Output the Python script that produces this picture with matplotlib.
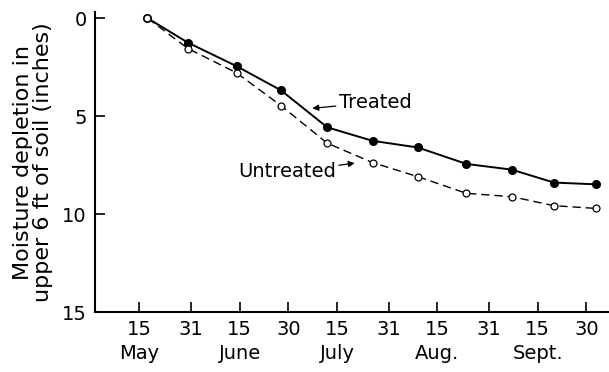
import matplotlib.pyplot as plt

# day of year for sampling dates (approx. every two weeks)
days = [137.5, 150, 165, 178.7, 193, 207, 221, 236, 250, 263, 276]
treated = [0.0, 1.25, 2.45, 3.68, 5.57, 6.26, 6.6, 7.44, 7.73, 8.39, 8.48]
untreated = [0.0, 1.55, 2.79, 4.46, 6.38, 7.37, 8.09, 8.94, 9.11, 9.57, 9.71]

tick_days = [135, 151, 166, 181, 196, 212, 227, 243, 258, 273]
tick_labels = ['15', '31', '15', '30', '15', '31', '15', '31', '15', '30']
months = ['May', 'June', 'July', 'Aug.', 'Sept.']
month_days = [135, 166, 196, 227, 258]

plt.rcParams['font.family'] = 'DejaVu Sans'
plt.rcParams['font.size'] = 14

fig = plt.figure(figsize=(6.09, 3.72), dpi=100)
ax = fig.add_axes([0.156, 0.161, 0.844, 0.806])

ax.plot(days, treated, '-', color='black', lw=1.4,
        marker='o', ms=5.5, mfc='black', mec='black')
ax.plot(days, untreated, color='black', lw=1.0, ls=(0, (6, 3.5)),
        marker='o', ms=5, mfc='white', mec='black', mew=0.9)

ax.set_xlim(121.3, 280)
ax.set_ylim(15, -0.3)
ax.set_yticks([0, 5, 10, 15])
ax.set_xticks(tick_days)
ax.set_xticklabels(tick_labels)

for m, d in zip(months, month_days):
    ax.text(d, -0.105, m, transform=ax.get_xaxis_transform(),
            ha='center', va='top', fontsize=14)

ax.set_ylabel('Moisture depletion in\nupper 6 ft of soil (inches)',
              fontsize=16, linespacing=1.0, labelpad=6)

ax.spines['top'].set_visible(False)
ax.spines['right'].set_visible(False)
ax.spines['left'].set_linewidth(1.5)
ax.spines['bottom'].set_linewidth(1.5)
ax.tick_params(direction='in', length=7, width=1.2, pad=6)
ax.tick_params(axis='x', pad=6)

ax.annotate('Treated', xy=(188.4, 4.6), xytext=(196.5, 4.3),
            ha='left', va='center', fontsize=14,
            arrowprops=dict(arrowstyle='-|>', color='black', lw=0.9,
                            mutation_scale=9, shrinkA=0, shrinkB=0))
ax.annotate('Untreated', xy=(201.5, 7.4), xytext=(165.5, 7.85),
            ha='left', va='center', fontsize=14,
            arrowprops=dict(arrowstyle='-|>', color='black', lw=0.9,
                            mutation_scale=9, shrinkA=64, shrinkB=0))

fig.savefig('out.png', dpi=100)
